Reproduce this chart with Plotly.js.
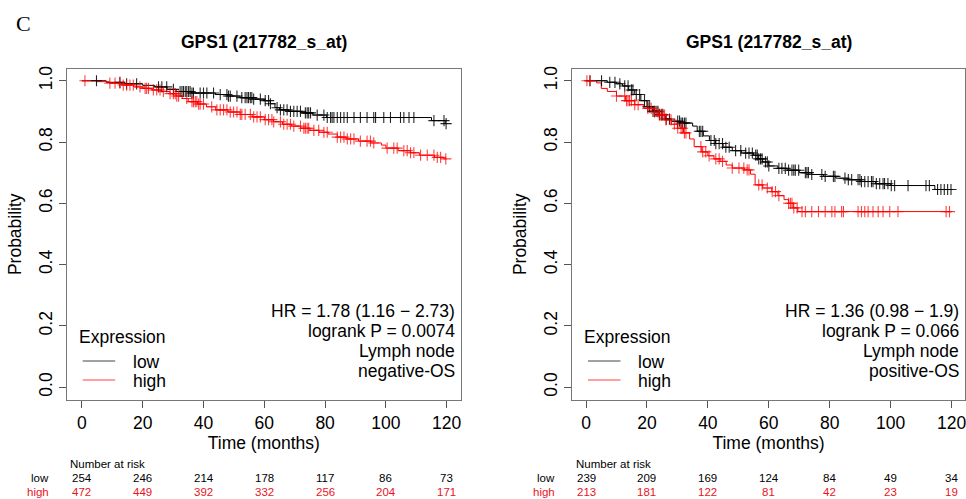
<!DOCTYPE html>
<html>
<head>
<meta charset="utf-8">
<script src="https://cdn.plot.ly/plotly-3.0.1.min.js"></script>
<style>html,body{margin:0;padding:0;background:#fff;}#chart{width:966px;height:499px;}</style>
</head>
<body>
<div id="chart"></div>
<script>
// ---------- Data ----------
const maxTime = 120;
const xTicks = [0, 20, 40, 60, 80, 100, 120];
const yTicks = [0, 0.2, 0.4, 0.6, 0.8, 1.0];

// Left panel: Lymph node negative-OS
const leftLowT = [0, 8, 14, 20, 24, 28, 31, 36, 44, 48, 52, 56, 60, 62, 63.5, 65, 68, 72, 76, 80.5, 115, 119.5];
const leftLowS = [1.0, 0.995, 0.99, 0.985, 0.98, 0.972, 0.965, 0.96, 0.955, 0.95, 0.945, 0.94, 0.935, 0.925, 0.912, 0.905, 0.9, 0.895, 0.888, 0.88, 0.87, 0.86];
const leftHighT = [0, 5, 9, 13, 17, 20, 23, 26, 29, 31, 33, 35, 38, 41, 44, 48, 52, 56, 60, 63, 66, 69, 72, 75, 78, 81, 84, 87, 91, 95, 98.5, 100, 104, 108, 111, 116, 119];
const leftHighS = [1.0, 0.997, 0.992, 0.986, 0.98, 0.975, 0.97, 0.965, 0.958, 0.95, 0.942, 0.932, 0.924, 0.915, 0.905, 0.898, 0.89, 0.882, 0.873, 0.866, 0.858, 0.852, 0.845, 0.838, 0.832, 0.826, 0.816, 0.81, 0.803, 0.797, 0.79, 0.78, 0.772, 0.765, 0.757, 0.75, 0.745];
const leftLowCens = [4.8, 12.5, 14.7, 18, 25.2, 26.3, 27.9, 30.1, 32.3, 32.9, 33.4, 34, 34.5, 35.1, 35.6, 36.2, 36.7, 38.9, 40, 41.1, 43.3, 45.5, 47.7, 48.2, 48.8, 51, 52.6, 53.7, 54.3, 54.8, 55.4, 55.9, 56.5, 58.7, 60.3, 61.4, 62, 64.2, 65.3, 66.4, 67.5, 68.6, 69.7, 70.8, 71.9, 73.5, 74.1, 74.6, 75.2, 77.4, 79.6, 80.7, 81.8, 82.3, 82.9, 84, 85.1, 86.2, 87.3, 89.5, 91.6, 93.8, 96, 96.6, 99.3, 101.5, 104.8, 105.9, 107.6, 109.2, 115.8, 119.1, 119.8];
const leftHighCens = [1, 9.2, 10.9, 12.5, 13.6, 14.7, 15.8, 16.9, 19.1, 20.8, 21.3, 21.9, 23.5, 24.6, 25.7, 26.8, 29, 30.1, 30.7, 31.2, 31.8, 34.5, 36.2, 36.7, 37.3, 37.8, 38.4, 38.9, 40, 42.7, 44.4, 45.5, 46.6, 47.7, 48.8, 49.9, 51, 52.1, 52.6, 53.7, 55.4, 56.5, 57.6, 58.7, 60.3, 61.4, 62.5, 63.1, 65.3, 66.4, 67.5, 68.6, 69.7, 71.9, 73, 73.5, 74.1, 74.6, 76.3, 77.9, 79.6, 80.7, 84, 85.1, 86.2, 87.3, 88.4, 89.5, 91.6, 93.8, 94.9, 96, 100.4, 102.6, 103.7, 105.9, 107, 108.1, 109.2, 111.4, 113.6, 115.8, 116.9, 118, 119.7];
const leftRiskLow = [254, 246, 214, 178, 117, 86, 73];
const leftRiskHigh = [472, 449, 392, 332, 256, 204, 171];
const leftStats = ["HR = 1.78 (1.16 \u2212 2.73)", "logrank P = 0.0074", "Lymph node", "negative-OS"];

// Right panel: Lymph node positive-OS
const rightLowT = [0, 7, 10, 12, 14, 16, 18, 20, 22, 24, 26, 28, 31, 35, 36.5, 38.5, 40.5, 42.5, 45, 48, 51, 55, 56.5, 58, 60, 63, 66, 70, 74, 78, 82, 86, 90, 95, 100, 114.5];
const rightLowS = [1.0, 0.995, 0.99, 0.983, 0.97, 0.955, 0.935, 0.915, 0.9, 0.89, 0.875, 0.868, 0.862, 0.852, 0.835, 0.82, 0.805, 0.795, 0.783, 0.772, 0.764, 0.757, 0.745, 0.735, 0.722, 0.714, 0.708, 0.7, 0.694, 0.688, 0.682, 0.677, 0.671, 0.664, 0.658, 0.645];
const rightHighT = [0, 3.5, 5, 7, 10, 13, 16, 19, 22, 24, 26, 28, 30, 32, 34, 35.5, 38, 40, 42, 44, 46, 48, 52, 54, 55.5, 58, 61, 63, 65, 66.5, 68, 69.5];
const rightHighS = [1.0, 0.993, 0.975, 0.965, 0.95, 0.935, 0.922, 0.91, 0.898, 0.888, 0.872, 0.858, 0.845, 0.83, 0.81, 0.785, 0.768, 0.755, 0.745, 0.737, 0.725, 0.715, 0.709, 0.695, 0.66, 0.65, 0.638, 0.625, 0.612, 0.6, 0.585, 0.573];
const rightLowCens = [1.3, 5.1, 7.8, 9.5, 11.1, 12.7, 13.8, 14.9, 15.4, 16.5, 17.6, 19.2, 20.3, 20.9, 22, 22.5, 23, 23.6, 24.1, 24.7, 25.2, 26.3, 27.4, 30.1, 30.7, 31.2, 31.7, 32.3, 32.8, 37.2, 37.7, 38.3, 41, 42.1, 42.6, 43.7, 44.8, 45.9, 47, 49.1, 50.8, 52.4, 53.5, 54.6, 55.7, 56.2, 56.7, 57.3, 57.8, 58.9, 59.5, 60, 63.3, 64.3, 65.4, 66.5, 67.6, 68.2, 68.7, 69.8, 72, 72.5, 73, 74.1, 77.4, 78.5, 81.2, 81.7, 85, 86.1, 87.2, 89.3, 89.9, 90.4, 91.5, 92.6, 93.7, 94.2, 95.3, 96.4, 97.5, 98, 99.1, 100.2, 101.3, 105.7, 111.6, 112.7, 115.4, 116.5, 117.6, 118.7, 119.8];
const rightHighCens = [0.3, 1.3, 10, 12.7, 13.3, 13.8, 14.3, 14.9, 16, 17.1, 20.3, 21.4, 22.5, 23.6, 24.1, 24.7, 25.2, 25.8, 26.3, 27.9, 29, 30.1, 31.2, 31.7, 32.3, 32.8, 37.7, 38.3, 39.3, 40.4, 42.6, 43.7, 44.8, 48, 50.2, 51.8, 52.9, 53.5, 56.7, 57.8, 59.5, 61.1, 62.2, 63.3, 66.5, 67.1, 67.6, 68.2, 69.3, 70.9, 72, 74.1, 76.3, 78.5, 80.7, 81.7, 83.9, 84.5, 89.3, 90.4, 91.5, 92.6, 94.2, 95.9, 97.5, 99.7, 102.4, 118.2, 119.3];
const rightRiskLow = [239, 209, 169, 124, 84, 49, 34];
const rightRiskHigh = [213, 181, 122, 81, 42, 23, 19];
const rightStats = ["HR = 1.36 (0.98 \u2212 1.9)", "logrank P = 0.066", "Lymph node", "positive-OS"];

const panelTitle = "GPS1 (217782_s_at)";
const groupNames = ["low", "high"];

// ---------- Styling ----------
const W = 966, H = 499;
const FONT = "Liberation Sans, Arial, Helvetica, sans-serif";
const BLACK = "#000000", RED = "#ff0000";
const px = v => v / W;           // x pixel -> paper
const py = v => (H - v) / H;     // y pixel -> paper

function stepAt(T, S, t) {
  let v = S[0];
  for (let i = 0; i < T.length; i++) if (T[i] <= t) v = S[i];
  return v;
}
function curve(T, S, color, xa, ya) {
  return {x: T.concat([maxTime]), y: S.concat([S[S.length - 1]]), xaxis: xa, yaxis: ya,
    type: "scatter", mode: "lines", line: {shape: "hv", color: color, width: 1},
    showlegend: false, hoverinfo: "skip"};
}
function cens(C, T, S, color, xa, ya) {
  return {x: C, y: C.map(t => stepAt(T, S, t)), xaxis: xa, yaxis: ya,
    type: "scatter", mode: "markers",
    marker: {symbol: "cross-thin", size: 8, color: color, line: {color: color, width: 1.1}},
    showlegend: false, hoverinfo: "skip"};
}

const data = [
  curve(leftLowT, leftLowS, BLACK, "x", "y"),
  curve(leftHighT, leftHighS, RED, "x", "y"),
  cens(leftLowCens, leftLowT, leftLowS, "rgba(0,0,0,0.85)", "x", "y"),
  cens(leftHighCens, leftHighT, leftHighS, "rgba(255,0,0,0.75)", "x", "y"),
  curve(rightLowT, rightLowS, BLACK, "x2", "y2"),
  curve(rightHighT, rightHighS, RED, "x2", "y2"),
  cens(rightLowCens, rightLowT, rightLowS, "rgba(0,0,0,0.85)", "x2", "y2"),
  cens(rightHighCens, rightHighT, rightHighS, "rgba(255,0,0,0.75)", "x2", "y2")
];

const axisFont = {family: FONT, size: 17.5, color: "#000"};
function xAxis(domain, range, anchor) {
  return {domain: domain, range: range, anchor: anchor, tickmode: "array", tickvals: xTicks,
    ticks: "outside", ticklen: 7, tickwidth: 1, tickcolor: "#555", ticklabeloverflow: "allow",
    showline: true, mirror: true, linecolor: "#777", linewidth: 1, showgrid: false, zeroline: false,
    tickfont: axisFont, title: {text: "Time (months)", font: axisFont, standoff: 4}, automargin: false, fixedrange: true};
}
function yAxis(domain, anchor) {
  return {domain: domain, range: [-0.042, 1.04], anchor: anchor, tickmode: "array", tickvals: yTicks,
    tickformat: ".1f", tickangle: -90,
    ticks: "outside", ticklen: 7, tickwidth: 1, tickcolor: "#555", ticklabeloverflow: "allow",
    showline: true, mirror: true, linecolor: "#777", linewidth: 1, showgrid: false, zeroline: false,
    tickfont: axisFont, title: {text: "Probability", font: axisFont, standoff: 9}, automargin: false, fixedrange: true};
}

const yDom = [py(400), py(68.5)];
const layout = {
  width: W, height: H, margin: {l: 0, r: 0, t: 0, b: 0},
  paper_bgcolor: "#ffffff", plot_bgcolor: "#ffffff", showlegend: false,
  xaxis: xAxis([px(66.7), px(461)], [-5, 124.7], "y"),
  yaxis: yAxis(yDom, "x"),
  xaxis2: xAxis([px(572), px(965)], [-4.6, 124.4], "y2"),
  yaxis2: yAxis(yDom, "x2"),
  annotations: [],
  shapes: []
};

const ann = layout.annotations;
ann.push({text: "C", xref: "paper", yref: "paper", x: px(23), y: py(23), xanchor: "center", yanchor: "middle",
  showarrow: false, font: {family: "Liberation Serif, Times New Roman, serif", size: 22, color: "#000"}});

function panel(xa, frameLeft, frameRight, stats, riskLow, riskHigh) {
  const xd = xa + " domain";
  ann.push({text: panelTitle, xref: xd, yref: "paper", x: 0.5, y: py(41.7), xanchor: "center", yanchor: "middle",
    showarrow: false, font: {family: FONT, size: 17.5, color: "#000", weight: "bold"}});
  const statY = [310.5, 331, 351, 371];
  stats.forEach((s, i) => ann.push({text: s, xref: "paper", yref: "paper", x: px(frameRight - 4.5), y: py(statY[i]),
    xanchor: "right", yanchor: "middle", showarrow: false, font: axisFont}));
  // legend
  ann.push({text: "Expression", xref: "paper", yref: "paper", x: px(frameLeft + 10), y: py(336.7),
    xanchor: "left", yanchor: "middle", showarrow: false, font: axisFont});
  const legY = [361.5, 380.5];
  const legCol = ["#444444", "#ff4040"];
  groupNames.forEach((g, i) => {
    ann.push({text: g, xref: "paper", yref: "paper", x: px(frameLeft + 64), y: py(legY[i]),
      xanchor: "left", yanchor: "middle", showarrow: false, font: axisFont});
    layout.shapes.push({type: "line", xref: "paper", yref: "paper", x0: px(frameLeft + 16), x1: px(frameLeft + 48.5),
      y0: py(legY[i] - 0.5), y1: py(legY[i] - 0.5), line: {color: legCol[i], width: 1}});
  });
  // number at risk
  const rf = {family: FONT, size: 11.5, color: "#000"};
  const rfr = {family: FONT, size: 11.5, color: "#e8141c"};
  ann.push({text: "Number at risk", xref: "paper", yref: "paper", x: px(frameLeft + 1.5), y: py(464),
    xanchor: "left", yanchor: "middle", showarrow: false, font: rf});
  ann.push({text: groupNames[0], xref: "paper", yref: "paper", x: px(frameLeft - 15.5), y: py(478.3),
    xanchor: "right", yanchor: "middle", showarrow: false, font: rf});
  ann.push({text: groupNames[1], xref: "paper", yref: "paper", x: px(frameLeft - 15.5), y: py(492.3),
    xanchor: "right", yanchor: "middle", showarrow: false, font: rfr});
  xTicks.forEach((t, i) => {
    ann.push({text: String(riskLow[i]), xref: xa, yref: "paper", x: t, y: py(478.3),
      xanchor: "center", yanchor: "middle", showarrow: false, font: rf});
    ann.push({text: String(riskHigh[i]), xref: xa, yref: "paper", x: t, y: py(492.3),
      xanchor: "center", yanchor: "middle", showarrow: false, font: rfr});
  });
}
panel("x", 66.7, 461, leftStats, leftRiskLow, leftRiskHigh);
panel("x2", 572, 965, rightStats, rightRiskLow, rightRiskHigh);

Plotly.newPlot("chart", data, layout, {staticPlot: true, displayModeBar: false});
</script>
</body>
</html>
